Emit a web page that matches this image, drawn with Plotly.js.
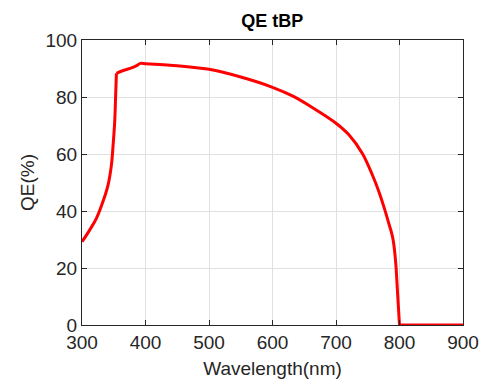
<!DOCTYPE html>
<html>
<head>
<meta charset="utf-8">
<script src="https://cdn.plot.ly/plotly-3.0.1.min.js"></script>
<style>html,body{margin:0;padding:0;background:#fff;}#chart{width:480px;height:381px;}</style>
</head>
<body>
<div id="chart"></div>
<script>
// rising edge (300 - 354 nm)
var riseWavelength = [300, 312, 322.7, 333, 341, 346.3, 349, 351.5, 353, 354.2];
var riseQE = [29.2, 33.3, 37.4, 43.3, 49.1, 56.1, 63.2, 71.3, 80.7, 88.3];
// plateau and fall (354 - 800 nm)
var fallWavelength = [354.2, 365, 378, 386, 392, 400, 450, 500, 550, 600, 633, 662, 700, 720, 742, 757, 768, 777, 784, 787, 790, 794, 797, 800];
var fallQE = [88.3, 89.3, 90.2, 91.0, 91.8, 91.7, 91.0, 89.7, 87.0, 83.4, 80.2, 76.4, 70.8, 66.8, 60.0, 52.8, 46.5, 40.3, 35.0, 32.8, 29.8, 22.0, 11.0, 0];
// cut-off (800 - 900 nm)
var tailWavelength = [800, 900];
var tailQE = [0, 0];

var xTicks = [300, 400, 500, 600, 700, 800, 900];
var yTicks = [0, 20, 40, 60, 80, 100];

var axisColor = '#262626';
var font = {family: 'Liberation Sans, Arial, sans-serif', size: 19, color: axisColor};

Plotly.newPlot('chart', [
  {x: riseWavelength, y: riseQE, type: 'scatter', mode: 'lines', line: {color: '#ff0000', width: 3, shape: 'spline', smoothing: 1}},
  {x: fallWavelength, y: fallQE, type: 'scatter', mode: 'lines', line: {color: '#ff0000', width: 3, shape: 'spline', smoothing: 0.8}},
  {x: tailWavelength, y: tailQE, type: 'scatter', mode: 'lines', line: {color: '#ff0000', width: 3}}
], {
  width: 480, height: 381,
  margin: {l: 82, r: 17, t: 40, b: 56},
  paper_bgcolor: '#ffffff', plot_bgcolor: '#ffffff',
  showlegend: false,
  font: font,
  title: {text: '<b>QE tBP</b>', font: {family: 'Liberation Sans, Arial, sans-serif', size: 18, color: '#000'}, x: 0.567, xanchor: 'center', y: 0.945, yanchor: 'middle'},
  xaxis: {
    range: [300, 900], tickvals: xTicks, ticktext: xTicks.map(String),
    showgrid: true, gridcolor: '#e0e0e0', gridwidth: 1,
    showline: true, linecolor: axisColor, linewidth: 1, mirror: 'ticks',
    ticks: 'inside', ticklen: 5, tickcolor: axisColor, tickwidth: 1,
    zeroline: false, tickfont: font,
    title: {text: 'Wavelength(nm)', font: font, standoff: 9}
  },
  yaxis: {
    range: [0, 100], tickvals: yTicks, ticktext: yTicks.map(String),
    showgrid: true, gridcolor: '#e0e0e0', gridwidth: 1,
    showline: true, linecolor: axisColor, linewidth: 1, mirror: 'ticks',
    ticks: 'inside', ticklen: 5, tickcolor: axisColor, tickwidth: 1,
    zeroline: false, tickfont: font,
    title: {text: 'QE(%)', font: font, standoff: 5}
  }
}, {displayModeBar: false, staticPlot: true});
</script>
</body>
</html>
